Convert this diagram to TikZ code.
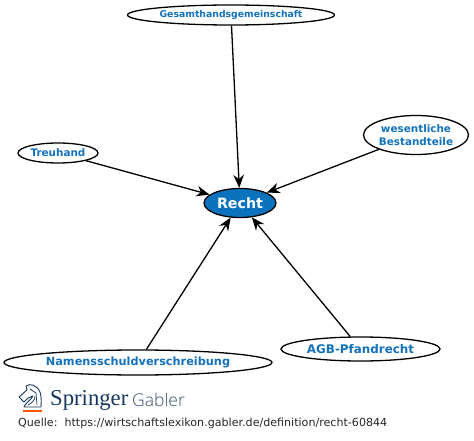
\documentclass[tikz,border=0pt]{standalone}
\usepackage{fontspec}
\setmainfont{DejaVu Sans}
\newfontfamily\spfont{Liberation Serif}
\newfontfamily\gbfont{Open Sans Light}
\usetikzlibrary{arrows.meta,shapes.geometric}
\definecolor{lblue}{HTML}{1272BC}
\definecolor{rblue}{HTML}{0B72BE}
\definecolor{navy}{HTML}{17375E}
\newcommand{\tlabel}[1]{\makebox[0pt]{\raisebox{-1pt}{#1}}}
\tikzset{
 concept/.style={draw=black,line width=1.3pt,ellipse,fill=white,inner sep=0pt,text=lblue,align=center,font=\fontsize{10.4}{13.5}\selectfont\bfseries},
 focus/.style={concept,fill=rblue,text=white,font=\fontsize{14.2}{16}\selectfont\bfseries},
 link/.style={draw=black,line width=1.3pt,-{Stealth[length=13pt,width=10.5pt]}},
 source/.style={inner sep=0pt,anchor=west,text=black!85,font=\fontsize{11.1}{13}\selectfont}
}
\begin{document}
\begin{tikzpicture}[x=1pt,y=-1pt]
\useasboundingbox (0,0) rectangle (474,441);
\node[concept,minimum width=207pt,minimum height=20pt,font=\fontsize{9.3}{12}\selectfont\bfseries] (g) at (231,15) {\tlabel{Gesamthandsgemeinschaft}};
\node[concept,minimum width=80pt,minimum height=20pt] (t) at (58,153) {\tlabel{Treuhand}};
\node[concept,minimum width=104pt,minimum height=39pt] (w) at (416,135) {wesentliche\\Bestandteile};
\node[focus,minimum width=72pt,minimum height=29pt] (r) at (240,203) {Recht};
\node[concept,minimum width=268pt,minimum height=25pt,font=\fontsize{11.3}{13}\selectfont\bfseries] (n) at (138,362.5) {\tlabel{Namensschuldverschreibung}};
\node[concept,minimum width=159pt,minimum height=24pt,font=\fontsize{11.9}{13}\selectfont\bfseries] (a) at (360.5,349) {\tlabel{AGB-Pfandrecht}};
\draw[link] (g) -- (r);
\draw[link] (t) -- (r);
\draw[link] (w) -- (r);
\draw[link] (n) -- (r);
\draw[link] (a) -- (r);
% logo
\draw[navy,line width=0.9pt,line join=round,line cap=round]
 (26,386) .. controls (30,383) and (37,385) .. (40,392) .. controls (42,398) and (41,404) .. (41,407)
 -- (24,407) .. controls (26,402) and (31,400) .. (33,396) -- (28,398) -- (24,402) -- (19,397) -- (27,390) -- cycle;
\draw[navy,line width=0.7pt] (30,389) -- (36,393) -- (37,405);
\draw[navy,line width=0.7pt] (28,405) .. controls (32,403) and (35,400) .. (35,396);
\fill[orange!70!red] (23,410) rectangle (42,412);
\node[anchor=west,inner sep=0pt,text=navy,font=\spfont\fontsize{22.7}{24}\selectfont] (sp) at (50,400) {Springer};
\node[anchor=west,inner sep=0pt,text=navy!70!gray,font=\gbfont\fontsize{17.5}{22}\selectfont] (gb) at (132,400) {Gabler};
\node[source] (q) at (18,423) {Quelle:\ \ https://wirtschaftslexikon.gabler.de/definition/recht-60844};
\end{tikzpicture}
\end{document}
